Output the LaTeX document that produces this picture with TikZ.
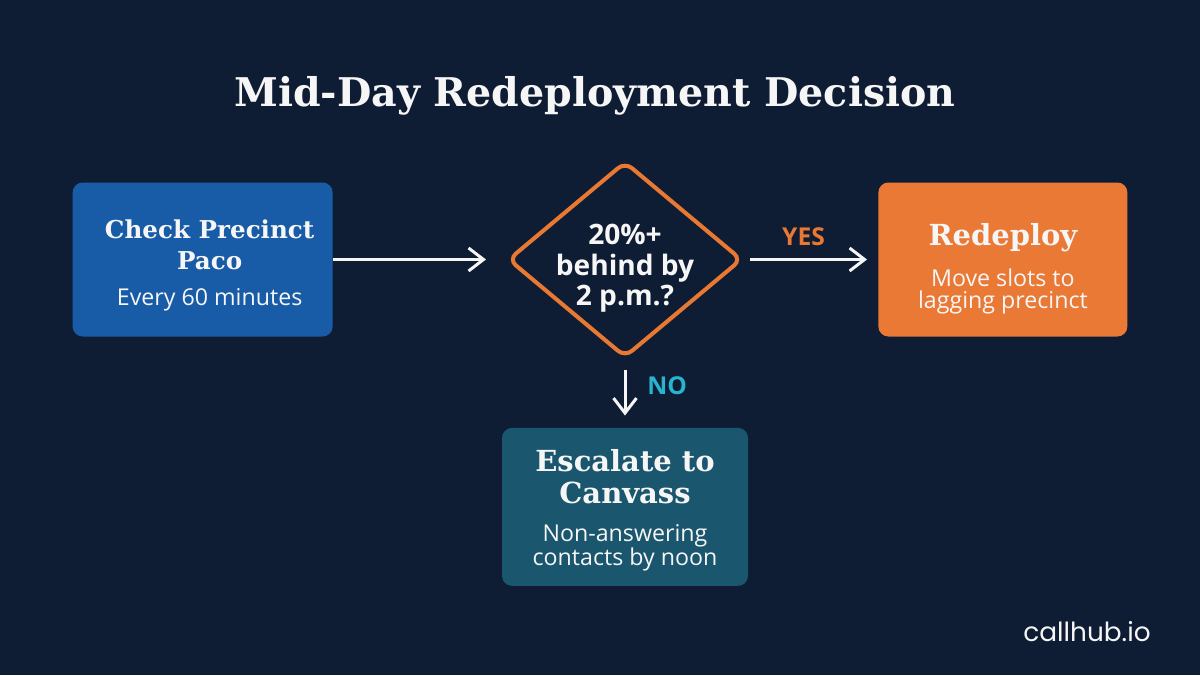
\documentclass[tikz,border=0pt]{standalone}
\usepackage{fontspec}
\setmainfont{Open Sans}
\newfontfamily\slabfont{DejaVu Serif}
\newfontfamily\brandfont{Poppins}
\usepackage{tikz}
\usetikzlibrary{shapes.geometric,arrows.meta,positioning}
\definecolor{bgnavy}{RGB}{14,29,52}
\definecolor{stepblue}{RGB}{24,92,168}
\definecolor{steporange}{RGB}{233,121,52}
\definecolor{stepteal}{RGB}{26,86,110}
\definecolor{yesorange}{RGB}{232,120,50}
\definecolor{nocyan}{RGB}{38,180,206}
\definecolor{offwhite}{RGB}{246,246,246}
\newcommand{\subline}[1]{{\fontsize{13.2}{14}\selectfont #1}}

\begin{document}
\begin{tikzpicture}[
  node distance=1.36cm and 3.46cm,
  stepbox/.style={rectangle, rounded corners=0.2cm,
    minimum width=5.2cm, minimum height=3.08cm},
  steptext/.style={text=offwhite, align=center, inner sep=0pt},
  decbox/.style={diamond, draw=yesorange, line width=2.3pt, rounded corners=0.18cm,
    fill=bgnavy, aspect=1.19, inner sep=0pt,
    minimum width=4.68cm, minimum height=3.92cm},
  arr/.style={-{Straight Barb[length=0.3cm, width=0.46cm]}, line width=1.7pt,
    draw=offwhite},
  branchlabel/.style={font=\fontsize{14}{16}\selectfont\bfseries}
]
\fill[bgnavy] (0,0) rectangle (24,13.5);
\useasboundingbox (0,0) rectangle (24,13.5);

\node[text=offwhite, font=\slabfont\bfseries\fontsize{22.5}{26}\selectfont] (title)
  at (11.9,11.58) {Mid-Day Redeployment Decision};

% decision and the three outcomes
\node[decbox] (dec) at (12.5,8.31) {};
\node[steptext, font=\fontsize{16}{17.4}\selectfont\bfseries] (dectext)
  at ([yshift=-0.18cm]dec.center) {20\%+\\behind by\\2 p.m.?};

\node[stepbox, fill=stepblue, left=of dec] (check) {};
\node[steptext, font=\fontsize{14}{17.6}\selectfont] (checktext)
  at ([xshift=0.14cm, yshift=-0.12cm]check.center)
  {{\slabfont\bfseries Check Precinct}\\{\slabfont\bfseries Paco}\\[3.4pt]
   \subline{Every 60 minutes}};

\node[stepbox, fill=steporange, minimum width=4.98cm, right=2.68cm of dec] (redeploy) {};
\node[steptext, font=\fontsize{16.5}{18.2}\selectfont] (redeploytext)
  at ([yshift=-0.18cm]redeploy.center)
  {{\slabfont\bfseries Redeploy}\\[5.1pt]
   \subline{Move slots to}\\[-5.7pt]
   \subline{lagging precinct}};

\node[stepbox, fill=stepteal, minimum width=4.92cm, minimum height=3.16cm,
  below=of dec] (escalate) {};
\node[steptext, font=\fontsize{16.5}{18.2}\selectfont] (escalatetext)
  at ([yshift=-0.06cm]escalate.center)
  {{\slabfont\bfseries Escalate to}\\{\slabfont\bfseries Canvass}\\[3.4pt]
   \subline{Non-answering}\\[-4.5pt]
   \subline{contacts by noon}};

\node[text=offwhite, font=\brandfont\fontsize{15}{18}\selectfont] (brand)
  at (21.74,0.86) {callhub.io};

\draw[arr, shorten >=0.4cm] (check) -- (dec);
\draw[arr, shorten <=0.12cm, shorten >=0.22cm] (dec) --
  node[branchlabel, text=yesorange, above=0.12cm, xshift=-0.15cm] {YES} (redeploy);
\draw[arr, shorten <=0.2cm, shorten >=0.24cm] (dec) --
  node[branchlabel, text=nocyan, right=0.3cm, yshift=0.15cm] {NO} (escalate);
\end{tikzpicture}
\end{document}
